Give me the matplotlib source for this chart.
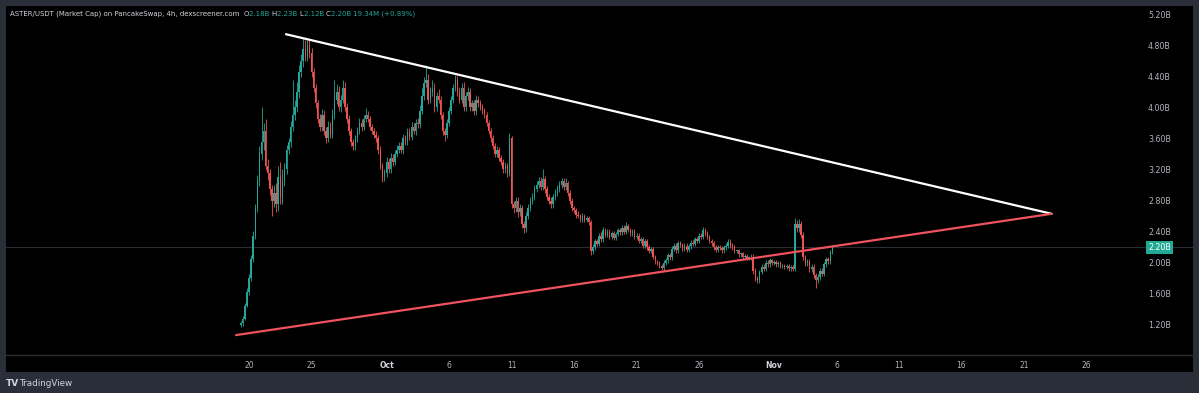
import numpy as np
import pandas as pd
import matplotlib
matplotlib.use("Agg")
import matplotlib.pyplot as plt
import matplotlib.dates as mdates
import matplotlib.transforms as mtransforms
from matplotlib.patches import Rectangle

# ---- data (market cap in billions, 4h candles) ----
start = pd.Timestamp("2025-09-19 08:00")
first_open = 1.20
close = [
    1.22, 1.28, 1.45, 1.62, 1.80, 2.05, 2.35, 2.70, 3.05, 3.40,
    3.55, 3.70, 3.25, 3.15, 2.95, 2.80, 2.90, 2.75, 3.10, 2.85,
    3.05, 3.20, 3.45, 3.55, 3.75, 3.90, 4.00, 4.20, 4.45, 4.60,
    4.75, 4.65, 4.80, 4.70, 4.45, 4.25, 4.05, 3.85, 3.75, 3.90,
    3.70, 3.60, 3.75, 3.65, 3.90, 4.10, 4.20, 4.00, 4.10, 4.25,
    4.00, 3.85, 3.70, 3.55, 3.50, 3.60, 3.70, 3.80, 3.75, 3.85,
    3.90, 3.85, 3.75, 3.70, 3.65, 3.60, 3.45, 3.25, 3.10, 3.15,
    3.30, 3.20, 3.35, 3.30, 3.40, 3.45, 3.50, 3.45, 3.60, 3.55,
    3.68, 3.62, 3.75, 3.70, 3.80, 3.78, 3.95, 4.15, 4.31, 4.35,
    4.10, 4.20, 4.25, 4.00, 4.15, 4.10, 3.90, 3.70, 3.65, 3.80,
    3.95, 4.10, 4.25, 4.35, 4.20, 4.10, 4.25, 4.00, 4.15, 4.20,
    4.00, 4.05, 3.95, 4.10, 4.05, 4.00, 3.95, 3.90, 3.80, 3.70,
    3.60, 3.50, 3.40, 3.45, 3.35, 3.30, 3.20, 3.25, 3.15, 3.60,
    2.75, 2.70, 2.80, 2.65, 2.70, 2.50, 2.45, 2.60, 2.70, 2.80,
    2.85, 2.95, 3.00, 3.05, 2.98, 3.08, 2.95, 2.85, 2.80, 2.75,
    2.85, 2.90, 2.95, 3.00, 3.05, 2.98, 3.02, 2.90, 2.80, 2.70,
    2.68, 2.62, 2.60, 2.55, 2.60, 2.55, 2.57, 2.52, 2.15, 2.20,
    2.28, 2.24, 2.35, 2.30, 2.42, 2.36, 2.40, 2.33, 2.38, 2.32,
    2.37, 2.42, 2.39, 2.45, 2.40, 2.47, 2.42, 2.38, 2.40, 2.33,
    2.35, 2.28, 2.30, 2.22, 2.28, 2.20, 2.15, 2.18, 2.08, 2.02,
    2.00, 1.96, 1.93, 2.00, 2.03, 2.10, 2.07, 2.18, 2.22, 2.16,
    2.25, 2.23, 2.18, 2.22, 2.17, 2.21, 2.26, 2.24, 2.30, 2.28,
    2.35, 2.33, 2.42, 2.38, 2.33, 2.28, 2.25, 2.20, 2.17, 2.20,
    2.19, 2.16, 2.20, 2.22, 2.27, 2.22, 2.20, 2.15, 2.16, 2.11,
    2.12, 2.08, 2.09, 2.06, 2.07, 2.08, 1.90, 1.80, 1.78, 1.88,
    1.95, 1.92, 2.00, 1.98, 2.03, 2.00, 2.01, 1.98, 2.00, 1.96,
    1.97, 1.95, 1.96, 1.93, 1.95, 1.92, 2.50, 2.45, 2.50, 2.36,
    2.07, 2.00, 2.02, 1.92, 1.95, 1.84, 1.78, 1.82, 1.90, 1.86,
    1.98, 2.05, 2.02, 2.14, 2.20,
]
upper_wick = [
    0.03, 0.04, 0.03, 0.05, 0.05, 0.05, 0.06, 0.05, 0.08, 0.10,
    0.45, 0.10, 0.15, 0.08, 0.06, 0.05, 0.10, 0.12, 0.15, 0.20,
    0.15, 0.08, 0.06, 0.05, 0.08, 0.45, 0.10, 0.12, 0.10, 0.08,
    0.14, 0.12, 0.09, 0.08, 0.06, 0.05, 0.05, 0.05, 0.06, 0.08,
    0.06, 0.05, 0.08, 0.06, 0.08, 0.25, 0.10, 0.08, 0.06, 0.10,
    0.08, 0.05, 0.05, 0.04, 0.04, 0.05, 0.05, 0.06, 0.05, 0.05,
    0.09, 0.05, 0.04, 0.04, 0.04, 0.04, 0.04, 0.05, 0.04, 0.05,
    0.06, 0.05, 0.06, 0.05, 0.05, 0.06, 0.05, 0.05, 0.06, 0.04,
    0.05, 0.05, 0.06, 0.05, 0.05, 0.06, 0.08, 0.10, 0.08, 0.19,
    0.08, 0.06, 0.10, 0.06, 0.05, 0.08, 0.04, 0.04, 0.04, 0.05,
    0.05, 0.05, 0.05, 0.07, 0.05, 0.06, 0.06, 0.08, 0.05, 0.06,
    0.05, 0.05, 0.05, 0.06, 0.04, 0.04, 0.04, 0.04, 0.04, 0.04,
    0.04, 0.04, 0.04, 0.05, 0.04, 0.04, 0.04, 0.05, 0.04, 0.07,
    0.03, 0.05, 0.05, 0.04, 0.05, 0.04, 0.04, 0.05, 0.05, 0.05,
    0.05, 0.05, 0.05, 0.05, 0.05, 0.12, 0.04, 0.04, 0.04, 0.04,
    0.04, 0.05, 0.05, 0.05, 0.04, 0.04, 0.07, 0.03, 0.03, 0.03,
    0.03, 0.03, 0.04, 0.03, 0.04, 0.03, 0.03, 0.03, 0.03, 0.04,
    0.03, 0.03, 0.03, 0.04, 0.04, 0.03, 0.03, 0.03, 0.03, 0.03,
    0.03, 0.03, 0.03, 0.03, 0.03, 0.05, 0.03, 0.03, 0.03, 0.03,
    0.03, 0.03, 0.03, 0.03, 0.03, 0.03, 0.03, 0.02, 0.02, 0.02,
    0.02, 0.02, 0.02, 0.03, 0.03, 0.03, 0.03, 0.04, 0.03, 0.03,
    0.03, 0.03, 0.03, 0.03, 0.03, 0.03, 0.03, 0.03, 0.03, 0.03,
    0.03, 0.03, 0.04, 0.03, 0.03, 0.03, 0.03, 0.03, 0.03, 0.03,
    0.03, 0.03, 0.03, 0.03, 0.04, 0.03, 0.03, 0.03, 0.02, 0.02,
    0.02, 0.02, 0.02, 0.02, 0.02, 0.03, 0.03, 0.03, 0.03, 0.03,
    0.03, 0.03, 0.03, 0.03, 0.03, 0.02, 0.02, 0.02, 0.02, 0.02,
    0.02, 0.02, 0.02, 0.02, 0.02, 0.02, 0.08, 0.05, 0.06, 0.04,
    0.04, 0.03, 0.03, 0.03, 0.03, 0.03, 0.03, 0.03, 0.03, 0.03,
    0.03, 0.03, 0.03, 0.03, 0.03,
]
lower_wick = [
    0.03, 0.03, 0.02, 0.02, 0.03, 0.03, 0.04, 0.05, 0.05, 0.06,
    0.08, 0.10, 0.06, 0.08, 0.08, 0.20, 0.08, 0.10, 0.08, 0.10,
    0.10, 0.06, 0.06, 0.05, 0.06, 0.06, 0.06, 0.06, 0.08, 0.06,
    0.08, 0.06, 0.06, 0.06, 0.06, 0.05, 0.06, 0.05, 0.06, 0.06,
    0.05, 0.06, 0.05, 0.05, 0.05, 0.05, 0.06, 0.05, 0.06, 0.05,
    0.05, 0.05, 0.05, 0.05, 0.05, 0.05, 0.04, 0.04, 0.05, 0.04,
    0.04, 0.04, 0.04, 0.04, 0.04, 0.04, 0.05, 0.05, 0.06, 0.05,
    0.05, 0.05, 0.05, 0.05, 0.04, 0.04, 0.04, 0.04, 0.05, 0.04,
    0.04, 0.04, 0.04, 0.04, 0.05, 0.04, 0.04, 0.04, 0.05, 0.05,
    0.06, 0.05, 0.05, 0.06, 0.05, 0.05, 0.05, 0.05, 0.08, 0.05,
    0.04, 0.04, 0.04, 0.04, 0.05, 0.05, 0.05, 0.05, 0.05, 0.05,
    0.05, 0.05, 0.05, 0.05, 0.04, 0.04, 0.04, 0.04, 0.04, 0.04,
    0.04, 0.04, 0.04, 0.04, 0.04, 0.04, 0.05, 0.04, 0.05, 0.04,
    0.05, 0.06, 0.05, 0.06, 0.05, 0.05, 0.07, 0.05, 0.04, 0.04,
    0.04, 0.04, 0.04, 0.04, 0.05, 0.04, 0.05, 0.04, 0.04, 0.05,
    0.04, 0.04, 0.04, 0.04, 0.04, 0.04, 0.04, 0.04, 0.04, 0.04,
    0.04, 0.04, 0.03, 0.03, 0.03, 0.03, 0.03, 0.03, 0.05, 0.04,
    0.03, 0.03, 0.03, 0.03, 0.03, 0.03, 0.03, 0.03, 0.03, 0.03,
    0.03, 0.03, 0.03, 0.03, 0.03, 0.03, 0.03, 0.03, 0.03, 0.03,
    0.03, 0.03, 0.03, 0.03, 0.03, 0.03, 0.03, 0.03, 0.03, 0.03,
    0.03, 0.03, 0.02, 0.03, 0.03, 0.03, 0.03, 0.03, 0.03, 0.03,
    0.03, 0.03, 0.03, 0.03, 0.03, 0.03, 0.03, 0.03, 0.03, 0.03,
    0.03, 0.03, 0.03, 0.03, 0.03, 0.03, 0.03, 0.03, 0.03, 0.03,
    0.03, 0.03, 0.03, 0.03, 0.03, 0.03, 0.03, 0.03, 0.03, 0.03,
    0.03, 0.03, 0.03, 0.03, 0.03, 0.03, 0.04, 0.04, 0.04, 0.04,
    0.03, 0.03, 0.03, 0.03, 0.03, 0.03, 0.03, 0.03, 0.03, 0.03,
    0.03, 0.03, 0.03, 0.03, 0.03, 0.03, 0.03, 0.05, 0.05, 0.04,
    0.03, 0.04, 0.04, 0.04, 0.04, 0.04, 0.10, 0.04, 0.04, 0.03,
    0.03, 0.03, 0.03, 0.03, 0.03,
]

# trendlines drawn on the chart
top_line_dates = ["2025-09-22 23:00", "2025-11-23 05:00"]
top_line_vals = [4.94, 2.63]
bottom_line_dates = ["2025-09-18 23:00", "2025-11-23 05:00"]
bottom_line_vals = [1.07, 2.63]

yticks = [1.2, 1.6, 2.0, 2.4, 2.8, 3.2, 3.6, 4.0, 4.4, 4.8, 5.2]
xtick_dates = ["2025-09-20", "2025-09-25", "2025-10-01", "2025-10-06", "2025-10-11",
               "2025-10-16", "2025-10-21", "2025-10-26", "2025-11-01", "2025-11-06",
               "2025-11-11", "2025-11-16", "2025-11-21", "2025-11-26"]
xtick_labels = ["20", "25", "Oct", "6", "11", "16", "21", "26", "Nov", "6",
                "11", "16", "21", "26"]
last_price = 2.20

# ---- build candles ----
close = np.array(close)
opens = np.concatenate([[first_open], close[:-1]])
highs = np.maximum(opens, close) + np.array(upper_wick)
lows = np.minimum(opens, close) - np.array(lower_wick)
times = pd.date_range(start, periods=len(close), freq="4h")
xs = mdates.date2num(times)

up_col = "#26a69a"
dn_col = "#ef5350"
txt_col = "#b2b5be"

W, H = 1199, 393
fig = plt.figure(figsize=(W / 100, H / 100), dpi=100)
fig.patch.set_facecolor("#2a2e39")

# black panel (chart + time scale)
fig.add_artist(Rectangle((6 / W, 1 - 372 / H), 1187 / W, 366 / H,
                         transform=fig.transFigure, facecolor="black",
                         edgecolor="none", zorder=0))

ax = fig.add_axes([6 / W, 1 - 355 / H, 1187 / W, 349 / H])
ax.set_facecolor("black")

x0 = mdates.date2num(pd.Timestamp("2025-09-20"))
ax.set_xlim(x0 - 19.44, x0 + 75.52)
ax.set_ylim(0.814, 5.303)

# last price line
ax.axhline(last_price, color="#2a2d35", lw=0.8, zorder=1)

colors = [up_col if c >= o else dn_col for o, c in zip(opens, close)]
ax.vlines(xs, lows, highs, colors=colors, lw=0.6, zorder=2)
body_h = np.maximum(np.abs(close - opens), 0.006)
ax.bar(xs, body_h, bottom=np.minimum(opens, close), width=0.115,
       color=colors, linewidth=0, zorder=3)

# trendlines
ax.plot(mdates.date2num(pd.to_datetime(top_line_dates)), top_line_vals,
        color="white", lw=1.6, solid_capstyle="round", zorder=4)
ax.plot(mdates.date2num(pd.to_datetime(bottom_line_dates)), bottom_line_vals,
        color="#f0525e", lw=1.6, solid_capstyle="round", zorder=4)

# axes styling
for s in ["top", "left", "right"]:
    ax.spines[s].set_visible(False)
ax.spines["bottom"].set_color("#2b2b30")
ax.spines["bottom"].set_linewidth(1.0)

ax.yaxis.tick_right()
ax.set_yticks(yticks)
ax.set_yticklabels([f"{v:.2f}B" for v in yticks])
ax.tick_params(axis="y", length=0, pad=-32.4, labelsize=5.7, labelcolor=txt_col)

ax.set_xticks(mdates.date2num(pd.to_datetime(xtick_dates)))
ax.set_xticklabels(xtick_labels)
ax.tick_params(axis="x", length=0, pad=4.0, labelsize=5.5, labelcolor=txt_col)
for lbl in ax.get_xticklabels():
    if lbl.get_text() in ("Oct", "Nov"):
        lbl.set_fontweight("bold")
        lbl.set_color("#d1d4dc")

# last price badge
trans = mtransforms.blended_transform_factory(ax.transAxes, ax.transData)
ax.text((1148 - 6) / 1187, last_price, f"{last_price:.2f}B", transform=trans,
        ha="left", va="center", fontsize=5.7, color="white", zorder=6,
        bbox=dict(boxstyle="square,pad=0.25", facecolor="#22ab94", edgecolor="none"))

# header legend
renderer = fig.canvas.get_renderer()
pieces = [("ASTER/USDT (Market Cap) on PancakeSwap, 4h, dexscreener.com  ", "#d1d4dc"),
          ("O", "#d1d4dc"), ("2.18B ", up_col),
          ("H", "#d1d4dc"), ("2.23B ", up_col),
          ("L", "#d1d4dc"), ("2.12B ", up_col),
          ("C", "#d1d4dc"), ("2.20B ", up_col),
          ("19.34M (+0.89%)", up_col)]
xpix = 10
for s, c in pieces:
    t = fig.text(xpix / W, 1 - 14 / H, s, fontsize=5.05, color=c, ha="left", va="center")
    xpix += t.get_window_extent(renderer).width

# TradingView mark
fig.text(6 / W, 1 - 383 / H, "TV", fontsize=6.5, fontweight="bold", color="#d1d4dc",
         ha="left", va="center")
fig.text(19 / W, 1 - 383 / H, "TradingView", fontsize=6.3, color="#d1d4dc",
         ha="left", va="center")

fig.savefig("out.png", dpi=100, facecolor=fig.get_facecolor())
